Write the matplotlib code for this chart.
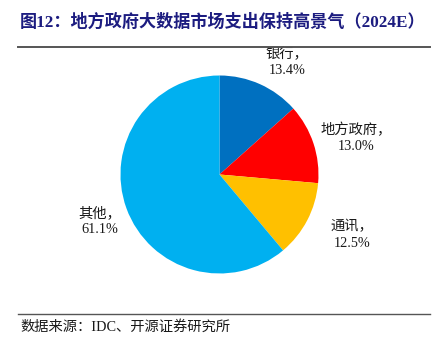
import matplotlib.pyplot as plt
from matplotlib.lines import Line2D

plt.rcParams['font.family'] = ['Liberation Serif', 'Noto Sans CJK SC']

categories = ['银行', '地方政府', '通讯', '其他']
shares = [13.4, 13.0, 12.5, 61.1]
colors = ['#0070C0', '#FF0000', '#FFC000', '#00B0F0']
# label anchor points, in pie radius units
label_pos = [(0.68, 1.13), (1.38, 0.37), (1.34, -0.61), (-1.21, -0.47)]

fig = plt.figure(figsize=(4.37, 3.41), dpi=100)

ax = fig.add_axes([0.2757, 0.198, 0.4531, 0.5806])
ax.pie(shares, colors=colors, startangle=90, counterclock=False,
       wedgeprops=dict(linewidth=0))
ax.set_xlim(-1, 1)
ax.set_ylim(-1, 1)
ax.set_aspect('equal')
ax.axis('off')

for name, val, (x, y) in zip(categories, shares, label_pos):
    ax.text(x, y, f'{name}，\n{val:.1f}%', ha='center', va='center',
            fontsize=10.3, color='#1a1a1a', linespacing=1.3, clip_on=False)

# title and rules
fig.text(0.046, 0.935, '图12：地方政府大数据市场支出保持高景气（2024E）',
         fontsize=12.3, fontweight='bold', color='#1C1C80', va='center')
fig.add_artist(Line2D([0.041, 0.984], [0.862, 0.862], color='#555555', lw=1.4))
fig.add_artist(Line2D([0.041, 0.984], [0.079, 0.079], color='#555555', lw=1.0))
fig.text(0.046, 0.041, '数据来源：IDC、开源证券研究所', fontsize=10.3,
         color='#1a1a1a', va='center')

fig.savefig('out.png', dpi=100)
